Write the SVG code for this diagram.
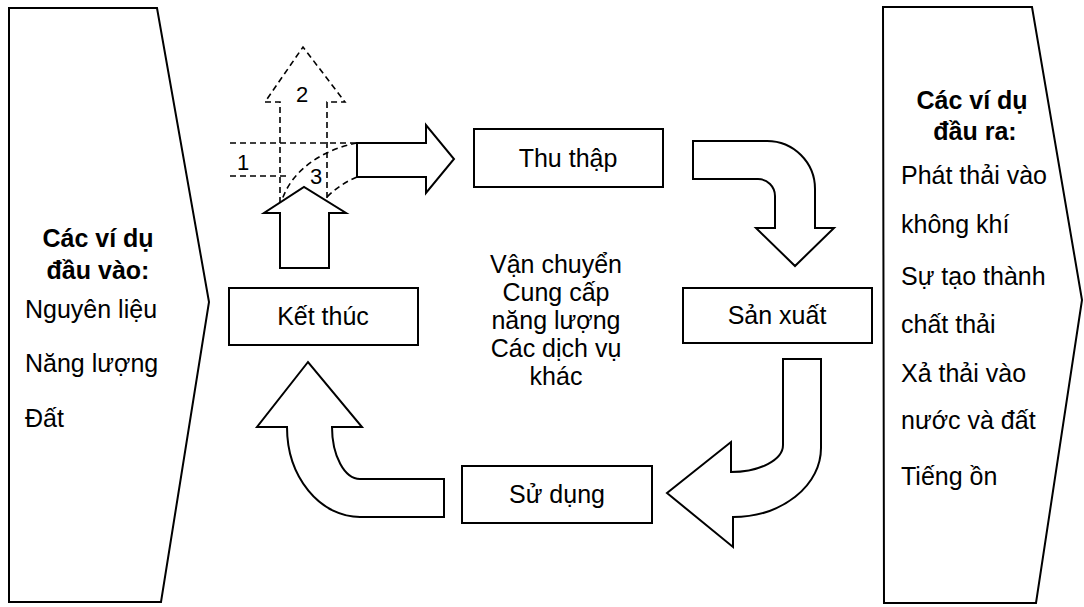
<svg xmlns="http://www.w3.org/2000/svg" width="1084" height="607" viewBox="0 0 1084 607">
<style>
.sh{fill:#fff;stroke:#000;stroke-width:2;stroke-linejoin:miter}
.dash{fill:none;stroke:#000;stroke-width:1.6;stroke-dasharray:6,4}
text{font-family:"Liberation Sans",Arial,sans-serif;font-size:25px;fill:#000}
.b{font-weight:bold}
.c{text-anchor:middle}
.n{font-size:22px}
</style>
<rect width="1084" height="607" fill="#fff"/>
<g id="inputs">
<polygon class="sh" points="9,8 157,8 209,302 161,602 9,602"/>
<text class="b c" x="98" y="247">Các ví dụ</text>
<text class="b c" x="98" y="279">đầu vào:</text>
<text x="25" y="318">Nguyên liệu</text>
<text x="25" y="372">Năng lượng</text>
<text x="25" y="427">Đất</text>
</g>
<g id="outputs">
<polygon class="sh" points="883,7 1032,7 1082,300 1036,603 884,603"/>
<text class="b c" x="972" y="109">Các ví dụ</text>
<text class="b c" x="975" y="140">đầu ra:</text>
<text x="901" y="184">Phát thải vào</text>
<text x="901" y="233">không khí</text>
<text x="901" y="285">Sự tạo thành</text>
<text x="901" y="333">chất thải</text>
<text x="901" y="382">Xả thải vào</text>
<text x="901" y="429">nước và đất</text>
<text x="901" y="485">Tiếng ồn</text>
</g>
<g id="thu-thap">
<rect class="sh" x="474" y="129" width="189" height="58"/>
<text class="c" x="568" y="167">Thu thập</text>
</g>
<g id="san-xuat">
<rect class="sh" x="683" y="288" width="189" height="55"/>
<text class="c" x="777" y="324">Sản xuất</text>
</g>
<g id="ket-thuc">
<rect class="sh" x="229" y="288" width="189" height="57"/>
<text class="c" x="323" y="325">Kết thúc</text>
</g>
<g id="su-dung">
<rect class="sh" x="462" y="466" width="190" height="57"/>
<text class="c" x="557" y="503">Sử dụng</text>
</g>
<g id="center-text">
<text class="c" x="556" y="273">Vận chuyển</text>
<text class="c" x="556" y="301">Cung cấp</text>
<text class="c" x="556" y="329">năng lượng</text>
<text class="c" x="556" y="357">Các dịch vụ</text>
<text class="c" x="556" y="385">khác</text>
</g>
<g id="connectors">
<path class="sh" d="M693,141 L767,141 A48,48 0 0 1 815,189 L815,228 L834,228 L795,266 L756,228 L775,228 L775,196 A17,17 0 0 0 758,179 L693,179 Z"/>
<path class="sh" d="M783,359 L821,359 L821,448 A88,69 0 0 1 733,517 L733,547 L667,493 L731,442 L731,472 A52,27 0 0 0 783,445 Z"/>
<path class="sh" d="M444,479 L444,517 L360,517 A73,90 0 0 1 287,427 L257,427 L308,362 L362,427 L332,427 A28,52 0 0 0 360,479 Z"/>
<path class="sh" d="M280,268 L280,213 L264,213 L304,187 L346,213 L329,213 L329,268 Z"/>
<path class="sh" d="M357,143 L426,143 L426,125 L454,159 L426,193 L426,177 L357,177 Z"/>
<path class="dash" d="M280,203 L280,102 L265,102 L303,47 L345,102 L327,102 L327,201"/>
<path class="dash" d="M230,143 L357,143 M230,176 L290,176"/>
<path class="dash" d="M357,143 C322,150 292,170 282,200 M357,177 Q340,184 327,197"/>
<text class="n c" x="243" y="170">1</text>
<text class="n c" x="302" y="102">2</text>
<text class="n c" x="316" y="184">3</text>
</g>
</svg>
